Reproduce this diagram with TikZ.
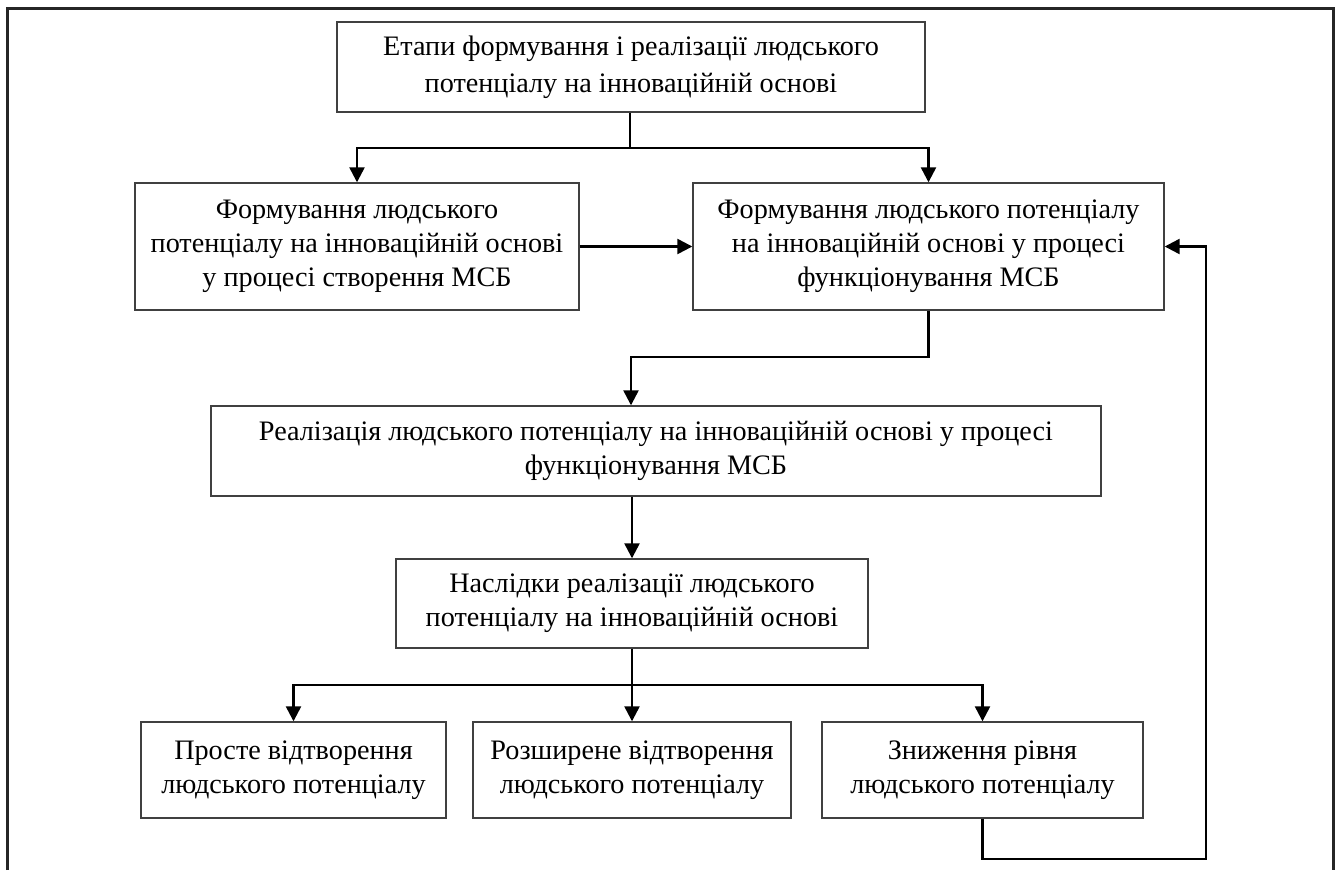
\documentclass[tikz,border=0pt]{standalone}
\usepackage{fontspec}
\setmainfont{Liberation Serif}
\usetikzlibrary{arrows.meta}
\begin{document}
\begin{tikzpicture}[x=1pt,y=1pt,
  box/.style={draw=black!75,line width=1.4pt,align=center,inner sep=0pt,
    font=\fontsize{28.2}{34}\selectfont},
  arr/.style={line width=2.4pt,-{Triangle[length=15pt,width=15pt]}},
  ln/.style={line width=2.4pt}]
\useasboundingbox (0,0) rectangle (1338,-870);
\draw[line width=3pt,black!85] (7,-870) -- (7,-8) -- (1333,-8) -- (1333,-870);

\node[box,minimum width=588pt,minimum height=90pt] (b1) at (631,-67)
  {Етапи формування і реалізації людського\\[3pt]потенціалу на інноваційній основі};
\node[box,minimum width=444pt,minimum height=127pt] (b2) at (357,-246.5)
  {Формування людського\\потенціалу на інноваційній основі\\у процесі створення МСБ};
\node[box,minimum width=471pt,minimum height=127pt] (b3) at (928.5,-246.5)
  {Формування людського потенціалу\\на інноваційній основі у процесі\\функціонування МСБ};
\node[box,minimum width=890pt,minimum height=90pt] (b4) at (656,-451)
  {Реалізація людського потенціалу на інноваційній основі у процесі\\функціонування МСБ};
\node[box,minimum width=472pt,minimum height=89pt] (b5) at (632,-603.5)
  {Наслідки реалізації людського\\потенціалу на інноваційній основі};
\node[box,minimum width=305pt,minimum height=96pt] (b6a) at (293.5,-770)
  {Просте відтворення\\людського потенціалу};
\node[box,minimum width=318pt,minimum height=96pt] (b6b) at (632,-770)
  {Розширене відтворення\\людського потенціалу};
\node[box,minimum width=321pt,minimum height=96pt] (b6c) at (982.5,-770)
  {Зниження рівня\\людського потенціалу};

\coordinate (j1) at (630,-148);
\draw[ln] (b1.south -| j1) -- (j1);
\draw[arr] (j1) -| (b2.north);
\draw[arr] (j1) -| (b3.north);
\draw[arr] (b2.east) -- (b3.west);

\coordinate (j2) at (631,-357);
\draw[arr] (b3.south) |- (j2) -- (j2 |- b4.north);

\draw[arr] (b4.south -| b5.north) -- (b5.north);

\coordinate (j3) at (632,-685);
\draw[ln] (b5.south) -- (j3);
\draw[arr] (j3) -| (b6a.north);
\draw[arr] (j3) -- (b6b.north);
\draw[arr] (j3) -| (b6c.north);

\coordinate (fb) at (1206,-859);
\draw[arr] (b6c.south) |- (fb) |- (b3.east);
\end{tikzpicture}
\end{document}
